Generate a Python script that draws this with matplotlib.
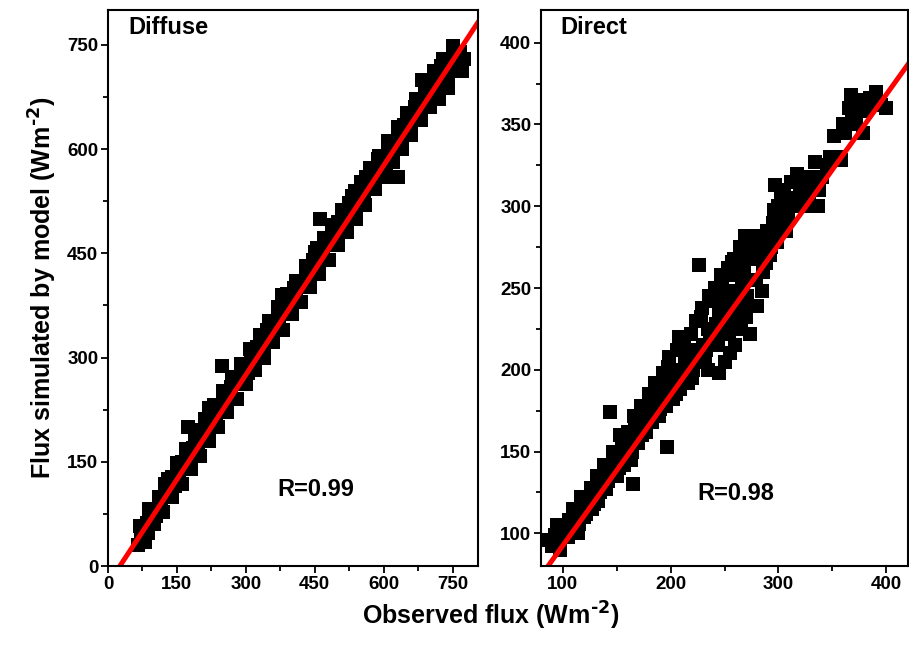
import numpy as np
import matplotlib
matplotlib.use("Agg")
import matplotlib.pyplot as plt
from matplotlib.ticker import MultipleLocator

plt.rcParams['font.family'] = ['Liberation Sans', 'DejaVu Sans']
plt.rcParams['font.weight'] = 'bold'
plt.rcParams['mathtext.default'] = 'bf'

# Diffuse flux: observed vs simulated (Wm-2)
diffuse_obs = [65, 72, 78, 85, 88, 95, 100, 105, 110, 115, 120, 125, 130, 135, 140, 145,
               150, 155, 160, 165, 170, 174, 178, 185, 190, 195, 200, 205, 210, 215, 220,
               225, 230, 235, 240, 248, 250, 255, 262, 268, 275, 280, 288, 295, 300, 305,
               312, 318, 325, 330, 335, 340, 345, 350, 358, 365, 372, 378, 385, 392, 398,
               405, 410, 418, 425, 430, 438, 445, 450, 455, 462, 468, 475, 480, 488, 495,
               500, 505, 512, 518, 525, 530, 538, 545, 550, 556, 562, 568, 575, 580, 588,
               595, 600, 605, 610, 615, 630, 625, 632, 638, 645, 650, 655, 660, 668, 675,
               683, 688, 695, 700, 706, 712, 718, 720, 725, 730, 738, 740, 745, 750, 758,
               765, 770, 775,
               80, 100, 120, 140, 160, 180, 200, 220, 240, 260, 280, 300, 320, 340, 360,
               380, 400, 420, 440, 460, 480, 500, 520, 540, 560, 580, 600, 620, 640, 660,
               680, 700, 720, 740, 760,
               70, 90, 110, 130, 150, 170, 190, 210, 230, 250, 270, 290, 310, 330, 350,
               370, 390, 410, 430, 450, 470, 490, 510, 530, 550, 570, 590, 610, 630, 650,
               670, 690, 710, 730, 750]
diffuse_sim = [30, 40, 55, 62, 48, 70, 80, 72, 90, 85, 100, 118, 105, 120, 128, 115,
               145, 135, 150, 142, 160, 200, 165, 170, 182, 175, 195, 188, 205, 198, 228,
               210, 220, 215, 232, 288, 238, 245, 240, 258, 262, 270, 272, 285, 290, 278,
               300, 295, 315, 305, 330, 318, 340, 328, 345, 340, 360, 390, 365, 385, 378,
               400, 392, 410, 402, 425, 415, 440, 432, 458, 500, 450, 470, 462, 485, 478,
               495, 488, 510, 500, 522, 515, 540, 530, 548, 538, 560, 552, 572, 562, 585,
               575, 590, 570, 605, 595, 560, 612, 625, 615, 635, 628, 645, 638, 660, 650,
               700, 700, 680, 690, 672, 705, 690, 672, 720, 705, 728, 688, 715, 738, 725,
               740, 712, 730,
               35, 60, 78, 100, 118, 140, 158, 180, 200, 222, 240, 262, 282, 300, 322,
               340, 362, 380, 402, 420, 440, 462, 480, 500, 520, 542, 560, 582, 600, 620,
               642, 660, 680, 700, 718,
               58, 82, 100, 125, 148, 168, 190, 212, 232, 252, 272, 290, 312, 332, 352,
               372, 392, 410, 432, 452, 472, 490, 512, 532, 552, 572, 590, 612, 632, 652,
               672, 690, 712, 730, 748]

# Direct flux: observed vs simulated (Wm-2)
direct_obs = [87, 90, 93, 97, 100, 103, 106, 108, 112, 115, 118, 120, 124, 127, 130, 133,
              136, 140, 143, 144, 146, 149, 152, 155, 158, 160, 163, 165, 166, 168, 171,
              174, 176, 179, 182, 185, 188, 190, 192, 195, 197, 198, 200, 203, 205, 208,
              208, 211, 213, 215, 218, 220, 222, 225, 226, 228, 230, 232, 235, 235, 237,
              240, 242, 245, 245, 246, 248, 250, 250, 251, 252, 255, 255, 256, 257, 258,
              260, 260, 262, 265, 265, 266, 268, 270, 270, 272, 274, 275, 277, 280, 280,
              282, 285, 285, 288, 290, 292, 295, 297, 298, 300, 303, 305, 307, 310, 312,
              315, 317, 320, 325, 328, 332, 334, 337, 338, 345, 351, 355, 358, 362, 365,
              367, 370, 372, 375, 378, 380, 385, 390, 395, 400,
              95, 98, 105, 110, 114, 117, 122, 126, 129, 132, 135, 138, 142, 147, 150,
              153, 157, 161, 164, 167, 170, 173, 177, 180, 183, 186, 189, 193, 196, 199,
              202, 206, 209, 212, 216, 219, 221, 224, 227, 229, 233, 236, 239, 241, 244,
              247, 249, 253, 254, 259, 261, 264, 267, 269, 271, 276, 279, 283, 286, 289,
              293, 296, 299, 302, 306, 309, 313, 318, 322, 326, 330, 340, 348, 360, 368,
              374, 382]
direct_sim = [96, 92, 99, 95, 104, 100, 108, 102, 112, 106, 118, 110, 122, 115, 126, 120,
              132, 127, 140, 174, 135, 145, 140, 155, 148, 152, 145, 130, 172, 158, 165,
              160, 175, 168, 178, 172, 185, 176, 190, 182, 153, 202, 188, 195, 185, 220,
              200, 192, 205, 198, 210, 195, 212, 205, 264, 232, 215, 208, 225, 200, 218,
              242, 228, 235, 198, 222, 255, 240, 205, 248, 230, 262, 210, 248, 266, 238,
              258, 215, 245, 270, 225, 252, 262, 278, 232, 255, 222, 280, 268, 282, 239,
              270, 275, 248, 265, 280, 270, 290, 313, 283, 300, 292, 310, 285, 302, 315,
              305, 320, 312, 300, 308, 318, 327, 300, 310, 325, 343, 330, 328, 345, 360,
              368, 355, 350, 362, 345, 358, 366, 370, 362, 360,
              105, 90, 98, 115, 100, 122, 112, 128, 118, 135, 125, 142, 132, 150, 135,
              160, 142, 162, 150, 165, 155, 178, 162, 185, 168, 192, 172, 198, 178, 208,
              182, 212, 188, 215, 192, 222, 200, 230, 205, 238, 212, 245, 220, 250, 215,
              258, 225, 262, 222, 268, 230, 275, 240, 282, 245, 276, 255, 280, 260, 285,
              275, 298, 278, 305, 295, 292, 300, 315, 305, 318, 312, 318, 330, 350, 358,
              365, 360]

# linear fits
diffuse_fit = (1.004, -26.0)
direct_fit = (0.92, 0.4)

fig = plt.figure(figsize=(9.09, 6.46), dpi=100)
ax1 = fig.add_axes([0.1188, 0.1238, 0.407, 0.8607])
ax2 = fig.add_axes([0.5952, 0.1238, 0.4037, 0.8607])


def style_axis(ax):
    for sp in ax.spines.values():
        sp.set_linewidth(1.5)
    ax.tick_params(which='both', direction='out', top=False, right=False,
                   width=1.3, labelsize=13.5, pad=2)
    ax.tick_params(which='major', length=5)
    ax.tick_params(which='minor', length=3.5)
    for lab in ax.get_xticklabels() + ax.get_yticklabels():
        lab.set_fontweight('bold')


# Diffuse panel
ax1.plot(diffuse_obs, diffuse_sim, 's', color='black', markersize=10.5, markeredgewidth=0)
xl1 = np.array([0, 805])
ax1.plot(xl1, diffuse_fit[0] * xl1 + diffuse_fit[1], color='#ff0000', lw=3.6)
ax1.set_xlim(0, 805)
ax1.set_ylim(0, 800)
ax1.xaxis.set_major_locator(MultipleLocator(150))
ax1.xaxis.set_minor_locator(MultipleLocator(75))
ax1.yaxis.set_major_locator(MultipleLocator(150))
ax1.yaxis.set_minor_locator(MultipleLocator(75))
style_axis(ax1)
ax1.text(0.054, 0.99, 'Diffuse', transform=ax1.transAxes, fontsize=17,
         fontweight='bold', va='top', ha='left')
ax1.text(0.562, 0.137, 'R=0.99', transform=ax1.transAxes, fontsize=17,
         fontweight='bold', va='center', ha='center')
ax1.set_ylabel('Flux simulated by model (Wm$^{\\text{-2}}$)', fontsize=18,
               fontweight='bold', labelpad=6)

# Direct panel
ax2.plot(direct_obs, direct_sim, 's', color='black', markersize=10.5, markeredgewidth=0)
xl2 = np.array([80, 420])
ax2.plot(xl2, direct_fit[0] * xl2 + direct_fit[1], color='#ff0000', lw=3.6)
ax2.set_xlim(80, 420)
ax2.set_ylim(80, 420)
ax2.xaxis.set_major_locator(MultipleLocator(100))
ax2.xaxis.set_minor_locator(MultipleLocator(50))
ax2.yaxis.set_major_locator(MultipleLocator(50))
ax2.yaxis.set_minor_locator(MultipleLocator(25))
style_axis(ax2)
ax2.text(0.052, 0.99, 'Direct', transform=ax2.transAxes, fontsize=17,
         fontweight='bold', va='top', ha='left')
ax2.text(0.531, 0.131, 'R=0.98', transform=ax2.transAxes, fontsize=17,
         fontweight='bold', va='center', ha='center')

fig.text(0.54, 0.022, 'Observed flux (Wm$^{\\text{-2}}$)', fontsize=18, fontweight='bold',
         ha='center', va='bottom')

fig.savefig('out.png', dpi=100)
